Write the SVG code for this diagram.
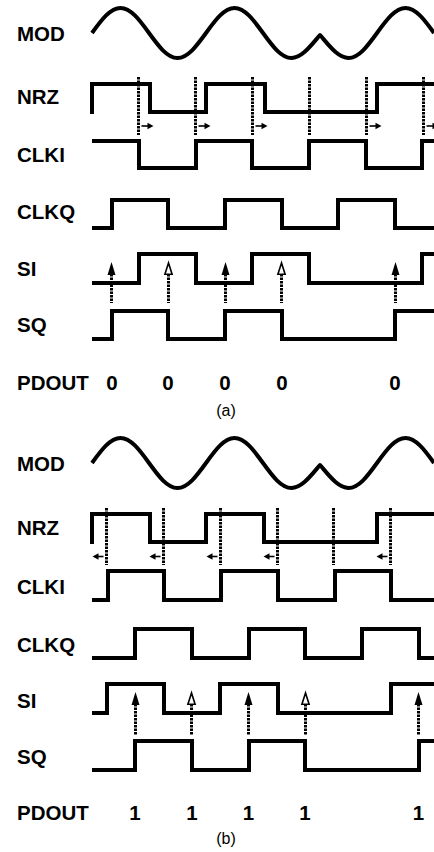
<svg xmlns="http://www.w3.org/2000/svg" width="434" height="852" viewBox="0 0 434 852">
<style>
.bg{fill:#fff}
.w{fill:none;stroke:#000;stroke-width:4;stroke-linejoin:miter;stroke-linecap:butt}
.mod{fill:none;stroke:#000;stroke-width:4;stroke-linejoin:round;stroke-linecap:butt}
.dash{stroke:#000;stroke-width:3;stroke-dasharray:2.5 1}
.lbl{font-family:"Liberation Sans",Arial,sans-serif;font-weight:bold;font-size:20.5px;fill:#000}
.num{font-family:"Liberation Sans",Arial,sans-serif;font-weight:bold;font-size:20.5px;fill:#000;text-anchor:middle}
.cap{font-family:"Liberation Sans",Arial,sans-serif;font-size:16px;fill:#000;text-anchor:middle}
</style>
<defs>
<polygon id="fa" points="0,0 -4,13 4,13" fill="#000"/>
<polygon id="oa" points="0,1 -3.6,12.3 3.6,12.3" fill="#fff" stroke="#000" stroke-width="1.6"/>
<g id="ra"><line x1="0" y1="0" x2="7" y2="0" stroke="#000" stroke-width="1.6"/><polygon points="6,-3.2 12,0 6,3.2" fill="#000"/></g>
<g id="la"><line x1="5" y1="0" x2="11" y2="0" stroke="#000" stroke-width="1.6"/><polygon points="0,0 6,-3.2 6,3.2" fill="#000"/></g>
<path id="modwave" d="M92,33 C101.3,20.19 110.19,8 120.5,8 C130.81,8 139.7,20.19 149,33 C158.3,45.81 167.19,58 177.5,58 C187.81,58 196.7,45.81 206,33 C215.3,20.19 224.19,8 234.5,8 C244.81,8 253.7,20.19 263,33 C272.3,45.81 281.19,58 291.5,58 C301.81,58 310.7,45.81 320,35 C329.3,45.81 338.19,58 348.5,58 C358.81,58 367.7,45.81 377,33 C386.3,20.19 395.19,8 405.5,8 C415.81,8 424.7,20.19 434,33"/>
</defs>
<rect class="bg" x="0" y="0" width="434" height="852"/>

<!-- Part (a) -->
<g id="a-mod"><text class="lbl" x="17" y="41">MOD</text><use href="#modwave" class="mod"/></g>
<g id="a-nrz"><text class="lbl" x="17" y="103.5">NRZ</text><path class="w" d="M92,114 V84 H150 V112 H206 V84 H265 V112 H377 V84 H434"/></g>
<g id="a-clki"><text class="lbl" x="17" y="162">CLKI</text><path class="w" d="M92,141 H139 V168 H196 V141 H252 V168 H309 V141 H366 V168 H422 V141 H434"/></g>
<g id="a-clkq"><text class="lbl" x="17" y="218.5">CLKQ</text><path class="w" d="M92,228 H112 V200 H168 V228 H225 V200 H282 V228 H338 V200 H395 V228 H434"/></g>
<g id="a-si"><text class="lbl" x="17" y="275.5">SI</text><path class="w" d="M92,283 H139 V254 H196 V283 H252 V254 H309 V283 H422 V254 H434"/></g>
<g id="a-sq"><text class="lbl" x="17" y="332">SQ</text><path class="w" d="M92,339 H112 V311 H168 V339 H225 V311 H282 V339 H395 V311 H434"/></g>
<g id="a-pdout"><text class="lbl" x="17" y="389.5">PDOUT</text>
<text class="num" x="112" y="389.5">0</text><text class="num" x="168" y="389.5">0</text><text class="num" x="225" y="389.5">0</text><text class="num" x="282" y="389.5">0</text><text class="num" x="395" y="389.5">0</text></g>
<g id="a-caption"><text class="cap" x="226" y="416">(a)</text></g>

<g id="a-connectors">
<line class="dash" x1="138.5" y1="77" x2="138.5" y2="135"/>
<line class="dash" x1="195.5" y1="77" x2="195.5" y2="135"/>
<line class="dash" x1="252.5" y1="77" x2="252.5" y2="135"/>
<line class="dash" x1="309.5" y1="77" x2="309.5" y2="135"/>
<line class="dash" x1="366.5" y1="77" x2="366.5" y2="135"/>
<line class="dash" x1="423.5" y1="77" x2="423.5" y2="135"/>
<use href="#ra" x="141.5" y="126"/>
<use href="#ra" x="198.5" y="126"/>
<use href="#ra" x="255.5" y="126"/>
<use href="#ra" x="369.5" y="126"/>
<use href="#ra" x="426.5" y="126"/>
<line class="dash" x1="111.5" y1="274" x2="111.5" y2="303"/>
<line class="dash" x1="168.5" y1="274" x2="168.5" y2="303"/>
<line class="dash" x1="225.5" y1="274" x2="225.5" y2="303"/>
<line class="dash" x1="281.5" y1="274" x2="281.5" y2="303"/>
<line class="dash" x1="395.5" y1="274" x2="395.5" y2="303"/>
<use href="#fa" x="111.5" y="262"/>
<use href="#oa" x="168.5" y="262"/>
<use href="#fa" x="225.5" y="262"/>
<use href="#oa" x="281.5" y="262"/>
<use href="#fa" x="395.5" y="262"/>
</g>

<!-- Part (b) -->
<g id="b-mod"><text class="lbl" x="17" y="471">MOD</text><use href="#modwave" class="mod" y="430"/></g>
<g id="b-nrz"><text class="lbl" x="17" y="535">NRZ</text><path class="w" d="M92,544 V514 H150 V542 H206 V514 H264 V542 H377 V514 H434"/></g>
<g id="b-clki"><text class="lbl" x="17" y="593.5">CLKI</text><path class="w" d="M92,600 H108 V571 H164 V600 H221 V571 H278 V600 H335 V571 H391 V600 H434"/></g>
<g id="b-clkq"><text class="lbl" x="17" y="652">CLKQ</text><path class="w" d="M92,658 H135 V629 H192 V658 H249 V629 H305 V658 H362 V629 H419 V658 H434"/></g>
<g id="b-si"><text class="lbl" x="17" y="707.5">SI</text><path class="w" d="M92,713 H107 V684 H164 V713 H220 V684 H278 V713 H391 V684 H434"/></g>
<g id="b-sq"><text class="lbl" x="17" y="764">SQ</text><path class="w" d="M92,770 H135 V741 H192 V770 H249 V741 H305 V770 H419 V741 H434"/></g>
<g id="b-pdout"><text class="lbl" x="17" y="820">PDOUT</text>
<text class="num" x="135" y="820">1</text><text class="num" x="192" y="820">1</text><text class="num" x="248.5" y="820">1</text><text class="num" x="305" y="820">1</text><text class="num" x="418.5" y="820">1</text></g>
<g id="b-caption"><text class="cap" x="226" y="844">(b)</text></g>

<g id="b-connectors">
<line class="dash" x1="106.5" y1="508" x2="106.5" y2="565"/>
<line class="dash" x1="163.5" y1="508" x2="163.5" y2="565"/>
<line class="dash" x1="220.5" y1="508" x2="220.5" y2="565"/>
<line class="dash" x1="277.5" y1="508" x2="277.5" y2="565"/>
<line class="dash" x1="333.5" y1="508" x2="333.5" y2="565"/>
<line class="dash" x1="390.5" y1="508" x2="390.5" y2="565"/>
<use href="#la" x="92.5" y="556.5"/>
<use href="#la" x="149.5" y="556.5"/>
<use href="#la" x="206.5" y="556.5"/>
<use href="#la" x="263.5" y="556.5"/>
<use href="#la" x="376.5" y="556.5"/>
<line class="dash" x1="135.5" y1="704" x2="135.5" y2="735"/>
<line class="dash" x1="191.5" y1="704" x2="191.5" y2="735"/>
<line class="dash" x1="248.5" y1="704" x2="248.5" y2="735"/>
<line class="dash" x1="305.5" y1="704" x2="305.5" y2="735"/>
<line class="dash" x1="418.5" y1="704" x2="418.5" y2="735"/>
<use href="#fa" x="135.5" y="692"/>
<use href="#oa" x="191.5" y="692"/>
<use href="#fa" x="248.5" y="692"/>
<use href="#oa" x="305.5" y="692"/>
<use href="#fa" x="418.5" y="692"/>
</g>
</svg>
